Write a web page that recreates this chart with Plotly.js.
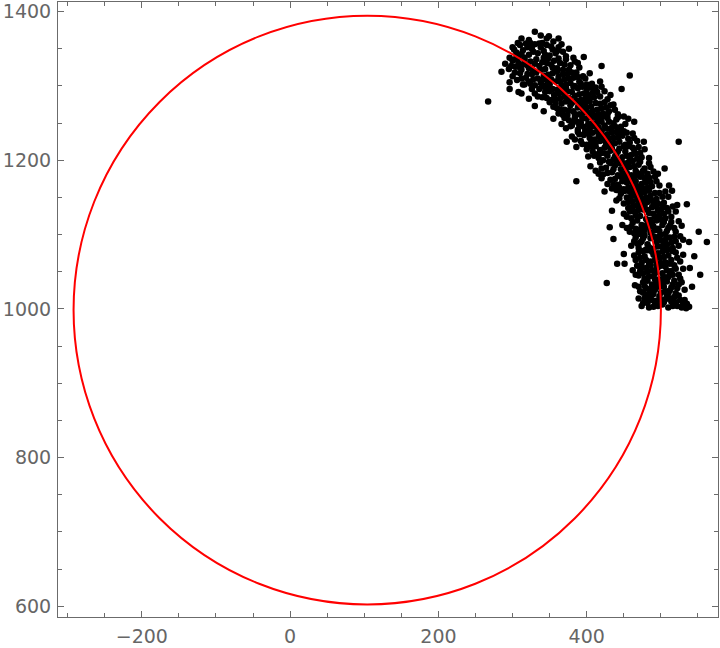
<!DOCTYPE html>
<html>
<head>
<meta charset="utf-8">
<script src="https://cdn.plot.ly/plotly-3.0.1.min.js"></script>
<style>html,body{margin:0;padding:0;background:#fff;}#chart{width:720px;height:648px;}</style>
</head>
<body>
<div id="chart"></div>
<script>
// Fitted circle (data units)
const circleCenterX = 104;
const circleCenterY = 998.5;
const circleRadius = 396;

// Axis tick values
const xTickVals = [-200, 0, 200, 400];
const yTickVals = [600, 800, 1000, 1200, 1400];

// Scatter points [x, y] (top to bottom)
const band1360 = [[312,1364],[330,1373],[346,1364],[349,1367],[362,1364],[322,1362],[338,1368],[355,1360]];
const band1340 = [[300,1352],[305,1345],[310,1355],[314,1348],[318,1357],[322,1342],[326,1350],[330,1356],[334,1344],[338,1352],[342,1347],[346,1355],[350,1341],[354,1349],[358,1344],[362,1352],[368,1346],[376,1350],[372,1340],[308,1340],[316,1336],[324,1358],[340,1358],[296,1338],[303,1336],
  [302,1349],[307,1358],[312,1343],[320,1352],[328,1346],[336,1357],[344,1342],[352,1353],[360,1347],[366,1356]];
const band1320 = [[290,1330],[295,1323],[300,1334],[304,1326],[308,1331],[312,1322],[316,1338],[320,1328],[324,1333],[328,1321],[332,1336],[336,1327],[340,1332],[344,1323],[348,1337],[352,1329],[356,1334],[360,1324],[364,1331],[368,1322],[372,1336],[378,1328],[384,1333],[390,1325],[396,1339],[420,1327],[285,1319],[310,1325],[342,1338],[358,1321],
  [298,1327],[306,1337],[314,1329],[322,1324],[330,1330],[338,1322],[346,1331],[354,1325],[362,1337],[370,1329],[376,1322],[382,1338],[388,1331]];
const band1300 = [[296,1305],[300,1313],[306,1308],[310,1317],[314,1302],[318,1311],[322,1306],[326,1316],[330,1301],[334,1310],[338,1304],[342,1314],[346,1308],[350,1302],[354,1317],[358,1306],[362,1312],[366,1301],[370,1309],[374,1316],[378,1304],[382,1311],[386,1318],[390,1306],[395,1313],[400,1302],[407,1303],[418,1306],[458,1314],[316,1302],[328,1309],[344,1300],[360,1319],[372,1302],[384,1300],
  [303,1318],[312,1310],[320,1316],[324,1303],[332,1318],[340,1308],[348,1315],[352,1309],[364,1306],[368,1316],[376,1310],[380,1318],[388,1312],[392,1303],[398,1310],[404,1317]];
const band1280 = [[296,1296],[308,1292],[312,1290],[322,1283],[330,1290],[336,1296],[340,1285],[344,1292],[348,1299],[352,1281],[356,1288],[360,1295],[364,1283],[368,1291],[372,1298],[376,1284],[380,1292],[384,1287],[388,1297],[392,1281],[396,1290],[400,1295],[404,1284],[408,1291],[412,1298],[418,1286],[424,1293],[432,1288],[447,1296],[350,1293],[366,1297],[378,1281],[394,1299],[402,1288],[386,1280],
  [326,1296],[334,1286],[342,1299],[346,1284],[354,1296],[358,1282],[362,1290],[370,1286],[374,1293],[382,1299],[390,1289],[398,1283],[406,1298],[410,1285],[414,1292],[420,1299],[428,1282]];
const band1260 = [[267,1279],[330,1273],[342,1266],[350,1278],[355,1272],[362,1263],[366,1276],[370,1268],[374,1261],[378,1274],[382,1266],[386,1279],[390,1262],[394,1270],[398,1277],[402,1264],[406,1272],[410,1260],[414,1268],[418,1276],[422,1263],[426,1271],[430,1266],[436,1275],[442,1262],[372,1279],[388,1271],[404,1279],[416,1262],[360,1270],
  [358,1277],[364,1268],[368,1261],[376,1267],[380,1277],[384,1262],[392,1276],[396,1264],[400,1271],[408,1266],[412,1277],[420,1270],[424,1278],[428,1262],[432,1274],[438,1268]];
const band1240 = [[355,1256],[366,1249],[372,1243],[376,1254],[380,1247],[384,1258],[388,1241],[392,1251],[396,1245],[400,1256],[404,1242],[408,1250],[412,1258],[416,1244],[420,1252],[424,1247],[428,1257],[432,1242],[436,1250],[440,1255],[446,1245],[450,1259],[464,1252],[398,1240],[410,1246],[422,1259],[434,1244],[387,1252],[418,1240],[452,1249],
  [370,1257],[378,1246],[382,1252],[390,1247],[394,1257],[402,1249],[406,1258],[414,1251],[418,1256],[426,1243],[430,1252],[438,1246],[442,1258],[444,1241],[456,1256]];
const band1220 = [[373,1225],[380,1232],[388,1238],[392,1226],[396,1234],[400,1221],[404,1230],[408,1237],[412,1224],[416,1232],[420,1239],[424,1227],[428,1235],[432,1222],[436,1230],[440,1238],[444,1225],[448,1233],[452,1221],[456,1229],[462,1236],[468,1226],[477,1225],[524,1225],[410,1228],[426,1221],[442,1231],[398,1238],[450,1239],
  [384,1228],[390,1235],[394,1222],[402,1236],[406,1224],[414,1239],[418,1226],[422,1233],[430,1229],[434,1237],[438,1223],[446,1236],[454,1237],[458,1224],[464,1230]];
const band1200 = [[386,1218],[400,1215],[402,1205],[408,1212],[412,1219],[416,1203],[420,1210],[424,1217],[428,1206],[432,1213],[436,1201],[440,1209],[444,1216],[448,1204],[452,1212],[456,1219],[460,1207],[464,1214],[468,1202],[472,1210],[484,1203],[414,1208],[430,1219],[446,1200],[458,1202],[422,1200],[470,1218],
  [406,1219],[410,1206],[418,1214],[426,1209],[434,1216],[438,1205],[442,1212],[450,1219],[454,1206],[462,1217],[466,1209],[474,1204],[478,1215]];
const band1180 = [[405,1192],[412,1186],[418,1197],[422,1181],[426,1190],[430,1198],[434,1184],[438,1193],[442,1180],[446,1188],[450,1196],[454,1183],[458,1191],[462,1199],[466,1186],[470,1194],[474,1181],[478,1189],[484,1196],[496,1182],[505,1189],[432,1196],[444,1196],[460,1180],[416,1182],[490,1185],
  [420,1189],[428,1183],[436,1188],[440,1199],[448,1182],[452,1190],[456,1197],[464,1192],[468,1183],[472,1198],[476,1186],[482,1182],[486,1191]];
const band1160 = [[386,1172],[420,1176],[428,1168],[434,1162],[438,1175],[442,1167],[446,1178],[450,1161],[454,1170],[458,1177],[462,1164],[466,1172],[470,1160],[474,1168],[478,1176],[482,1163],[486,1171],[492,1178],[498,1166],[511,1166],[440,1160],[456,1163],[472,1178],[448,1172],[480,1170],
  [432,1174],[436,1167],[444,1163],[452,1176],[460,1171],[464,1178],[468,1165],[476,1162],[484,1177],[488,1165],[494,1172]];
const band1140 = [[424,1158],[440,1146],[446,1155],[450,1142],[454,1150],[458,1158],[462,1145],[466,1153],[470,1141],[474,1149],[478,1157],[482,1144],[486,1152],[490,1140],[494,1148],[498,1156],[504,1143],[510,1151],[515,1159],[522,1140],[535,1141],[452,1159],[468,1147],[484,1159],[476,1143],
  [444,1149],[448,1158],[456,1144],[460,1152],[464,1159],[472,1155],[480,1150],[488,1146],[492,1156],[496,1142],[502,1151],[506,1158]];
const band1120 = [[434,1132],[450,1128],[456,1136],[460,1122],[464,1131],[468,1139],[472,1125],[476,1134],[480,1121],[484,1129],[488,1137],[492,1124],[496,1132],[500,1120],[504,1128],[508,1136],[514,1124],[520,1131],[462,1138],[478,1139],[494,1138],[486,1120],[470,1133],[500,1134],
  [454,1124],[458,1131],[466,1126],[474,1138],[482,1133],[490,1128],[498,1126],[502,1139],[506,1122],[510,1131],[516,1138]];
const band1100 = [[431,1110],[448,1113],[458,1104],[462,1116],[466,1108],[470,1101],[474,1113],[478,1106],[482,1118],[486,1103],[490,1111],[494,1119],[498,1105],[502,1113],[506,1101],[510,1109],[514,1117],[520,1104],[528,1112],[551,1104],[468,1119],[484,1110],[500,1100],[476,1100],[492,1106],
  [454,1109],[460,1111],[464,1102],[472,1107],[480,1112],[488,1116],[496,1108],[504,1117],[508,1105],[512,1112],[518,1109],[524,1118]];
const band1080 = [[436,1094],[460,1085],[466,1096],[470,1082],[474,1091],[478,1099],[482,1087],[486,1095],[490,1081],[494,1090],[498,1098],[502,1084],[506,1093],[510,1080],[514,1089],[518,1097],[524,1085],[530,1093],[538,1090],[562,1090],[472,1089],[488,1099],[504,1089],[480,1080],[496,1084],
  [464,1091],[468,1088],[476,1095],[484,1083],[492,1097],[500,1092],[508,1086],[512,1096],[516,1082],[520,1091],[526,1098]];
const band1060 = [[450,1074],[441,1061],[451,1061],[466,1066],[470,1076],[474,1062],[478,1071],[482,1079],[486,1064],[490,1073],[494,1060],[498,1069],[502,1077],[506,1063],[510,1072],[514,1066],[520,1076],[526,1064],[545,1071],[476,1078],[492,1066],[508,1079],[484,1060],[500,1062],
  [464,1072],[472,1069],[480,1066],[488,1077],[496,1075],[504,1070],[512,1061],[516,1078],[522,1069],[530,1073]];
const band1040 = [[462,1052],[470,1045],[474,1056],[478,1041],[482,1050],[486,1058],[490,1044],[494,1053],[498,1040],[502,1048],[506,1057],[510,1043],[514,1051],[518,1059],[524,1046],[530,1054],[539,1055],[553,1046],[476,1048],[488,1052],[500,1058],[512,1046],[492,1040],[468,1058],
  [466,1046],[472,1051],[480,1055],[484,1044],[492,1048],[496,1056],[504,1043],[508,1052],[516,1046],[520,1054],[526,1041]];
const band1020 = [[427,1035],[465,1032],[472,1024],[476,1036],[480,1028],[484,1021],[488,1033],[492,1026],[496,1038],[500,1022],[504,1030],[508,1037],[512,1025],[516,1033],[522,1028],[528,1036],[542,1030],[482,1038],[498,1030],[510,1021],[476,1022],[520,1021],[490,1020],
  [470,1030],[478,1031],[486,1027],[494,1033],[502,1036],[506,1024],[514,1029],[518,1038],[524,1033],[532,1026]];
const band1000 = [[474,1004],[478,1014],[482,1008],[486,1018],[490,1003],[494,1011],[498,1017],[502,1006],[506,1013],[510,1002],[514,1010],[518,1016],[522,1004],[526,1012],[530,1007],[535,1007],[538,1003],[484,1002],[496,1004],[508,1019],[520,1009],[488,1012],[500,1012],[480,1018],[528,1002],
  [476,1008],[484,1015],[492,1006],[504,1009],[512,1014],[516,1004],[524,1018],[532,1012],[534,1001],[470,1014]];

const allPoints = [].concat(band1360, band1340, band1320, band1300, band1280, band1260, band1240,
  band1220, band1200, band1180, band1160, band1140, band1120, band1100, band1080, band1060,
  band1040, band1020, band1000);
const xs = allPoints.map(p => p[0]);
const ys = allPoints.map(p => p[1]);

const axisFont = {family: 'DejaVu Sans', size: 19, color: '#666666'};
const commonAxis = {
  showgrid: false, zeroline: false, showline: true, linecolor: '#6b6b6b', linewidth: 1,
  mirror: 'ticks', ticks: 'inside', ticklen: 6, tickcolor: '#6b6b6b', tickwidth: 1,
  tickfont: axisFont,
  minor: {ticks: 'inside', ticklen: 4, tickcolor: '#6b6b6b', tickwidth: 1, dtick: 50, showgrid: false}
};

const trace = {
  type: 'scatter', mode: 'markers', x: xs, y: ys,
  marker: {color: '#000000', size: 6.5, line: {width: 0}},
  hoverinfo: 'skip'
};

const layout = {
  width: 720, height: 648, autosize: false,
  margin: {l: 58, r: 2, t: 2, b: 31, pad: 0},
  paper_bgcolor: '#ffffff', plot_bgcolor: '#ffffff',
  showlegend: false,
  xaxis: Object.assign({}, commonAxis, {range: [-313, 577], tickvals: xTickVals, tick0: 0, dtick: 200, ticklabelstandoff: 2}),
  yaxis: Object.assign({}, commonAxis, {range: [585.6, 1413], tickvals: yTickVals, tick0: 600, dtick: 200, ticklabelstandoff: 2}),
  shapes: [{
    type: 'circle', xref: 'x', yref: 'y', layer: 'above',
    x0: circleCenterX - circleRadius, x1: circleCenterX + circleRadius,
    y0: circleCenterY - circleRadius, y1: circleCenterY + circleRadius,
    line: {color: '#ff0000', width: 2}
  }]
};

Plotly.newPlot('chart', [trace], layout, {staticPlot: true, displayModeBar: false});
</script>
</body>
</html>
